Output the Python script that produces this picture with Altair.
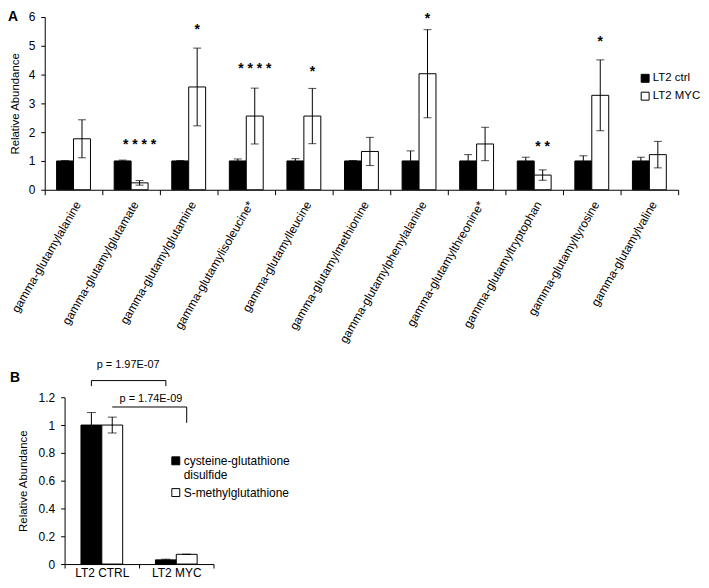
import altair as alt
import pandas as pd

FONT = "Liberation Sans"

# ---------------- Panel A data ----------------
categories = [
    "gamma-glutamylalanine", "gamma-glutamylglutamate", "gamma-glutamylglutamine",
    "gamma-glutamylisoleucine*", "gamma-glutamylleucine", "gamma-glutamylmethionine",
    "gamma-glutamylphenylalanine", "gamma-glutamylthreonine*", "gamma-glutamyltryptophan",
    "gamma-glutamyltyrosine", "gamma-glutamylvaline",
]
series_a = ["LT2 ctrl", "LT2 MYC"]
ctrl_values = [1.00, 1.00, 1.00, 1.00, 1.00, 1.00, 1.00, 1.00, 1.00, 1.00, 1.00]
ctrl_err = [0.01, 0.03, 0.01, 0.07, 0.08, 0.01, 0.35, 0.22, 0.13, 0.18, 0.13]
myc_values = [1.77, 0.24, 3.57, 2.56, 2.56, 1.33, 4.03, 1.59, 0.51, 3.28, 1.22]
myc_err = [0.66, 0.08, 1.35, 0.97, 0.96, 0.49, 1.53, 0.58, 0.18, 1.23, 0.46]
star_labels = ["", "* * * *", "*", "* * * *", "*", "", "*", "", "* *", "*", ""]
star_levels = [0, 1.81, 5.78, 4.42, 4.34, 0, 6.17, 0, 1.72, 5.37, 0]
panel_letters = ["A", "B"]

# ---------------- Panel B data ----------------
categories_b = ["LT2 CTRL", "LT2 MYC"]
series_b = ["cysteine-glutathione disulfide", "S-methylglutathione"]
cys_values = [1.00, 0.03]
cys_err = [0.09, 0.005]
smg_values = [1.00, 0.07]
smg_err = [0.057, 0.0]
bracket_ids = [1, 1, 1, 1, 2, 2, 2]
bracket_cats = ["LT2 CTRL", "LT2 CTRL", "LT2 MYC", "LT2 MYC", "LT2 CTRL", "LT2 MYC", "LT2 MYC"]
bracket_series = [series_b[0]] * 4 + [series_b[1]] * 3
bracket_levels = [1.28, 1.32, 1.32, 1.28, 1.13, 1.13, 1.016]
p_labels = ["p = 1.97E-07", "p = 1.74E-09"]
p_levels = [1.43, 1.19]

# ---------------- tables ----------------
rows_a = []
for i, c in enumerate(categories):
    for s, v, e in ((series_a[0], ctrl_values[i], ctrl_err[i]),
                    (series_a[1], myc_values[i], myc_err[i])):
        rows_a.append(dict(cat=c, series=s, value=v, lo=v - e, hi=v + e))
df_a = pd.DataFrame(rows_a)
df_stars = pd.DataFrame([
    dict(cat=c, series=series_a[1], label=l, level=lv)
    for c, l, lv in zip(categories, star_labels, star_levels) if l
])

rows_b = []
for i, c in enumerate(categories_b):
    for s, v, e in ((series_b[0], cys_values[i], cys_err[i]),
                    (series_b[1], smg_values[i], smg_err[i])):
        rows_b.append(dict(cat=c, series=s, value=v, lo=v - e, hi=v + e))
df_b = pd.DataFrame(rows_b)
df_br = pd.DataFrame(dict(bid=bracket_ids, cat=bracket_cats, series=bracket_series,
                          level=bracket_levels, order=list(range(len(bracket_ids)))))
df_p1 = pd.DataFrame(dict(cat=["LT2 CTRL"], label=[p_labels[0]], level=[p_levels[0]]))
df_p2 = pd.DataFrame(dict(cat=["LT2 CTRL"], label=[p_labels[1]], level=[p_levels[1]]))
df_letter_a = pd.DataFrame(dict(letter=[panel_letters[0]]))
df_letter_b = pd.DataFrame(dict(letter=[panel_letters[1]]))

# ---------------- Panel A ----------------
xA = alt.X("cat:N", sort=categories, title=None,
           scale=alt.Scale(domain=categories, paddingInner=0, paddingOuter=0),
           axis=alt.Axis(labelAngle=-60, labelFontSize=12, labelPadding=7, labelOffset=4,
                         tickBand="extent", tickSize=5, labelLimit=300, labelOverlap=False))
xoA = alt.XOffset("series:N", scale=alt.Scale(domain=series_a, paddingInner=0, paddingOuter=0.7))


def yA(field):
    return alt.Y(field, title="Relative Abundance",
                 scale=alt.Scale(domain=[0, 6], nice=False),
                 axis=alt.Axis(values=[0, 1, 2, 3, 4, 5, 6], tickSize=4, labelPadding=6,
                               titlePadding=8, labelFontSize=12, titleFontSize=11.5,
                               titleFontWeight="normal"))


bars_a = alt.Chart(df_a).mark_bar(stroke="black", strokeWidth=1).encode(
    x=xA, xOffset=xoA, y=yA("value:Q"),
    color=alt.Color("series:N", scale=alt.Scale(domain=series_a, range=["black", "white"]),
                    legend=alt.Legend(title=None, orient="none", legendX=599, legendY=56,
                                      symbolType="square", symbolSize=64,
                                      symbolStrokeColor="black", symbolStrokeWidth=1,
                                      labelFontSize=11.5, labelOffset=2, rowPadding=5)),
)
err_a = alt.Chart(df_a).mark_rule(color="black", strokeWidth=1).encode(
    x=xA, xOffset=xoA, y=yA("lo:Q"), y2="hi:Q")
cap_hi_a = alt.Chart(df_a).mark_tick(color="black", thickness=1, size=8).encode(
    x=xA, xOffset=xoA, y=yA("hi:Q"))
cap_lo_a = alt.Chart(df_a).mark_tick(color="black", thickness=1, size=8).encode(
    x=xA, xOffset=xoA, y=yA("lo:Q"))
stars_a = alt.Chart(df_stars).mark_text(font=FONT, fontSize=14, fontWeight="bold",
                                        baseline="top", color="black").encode(
    x=xA, xOffset=xoA, y=yA("level:Q"), text="label:N")
letter_a = alt.Chart(df_letter_a).mark_text(font=FONT, fontSize=14, fontWeight="bold",
                                            align="left", baseline="top", color="black").encode(
    x=alt.value(-37), y=alt.value(-7), text="letter:N")

panel_a = alt.layer(bars_a, err_a, cap_hi_a, cap_lo_a, stars_a, letter_a).properties(
    width=638, height=174,
)

# ---------------- Panel B ----------------
xB = alt.X("cat:N", sort=categories_b, title=None,
           scale=alt.Scale(domain=categories_b, range=[20, 170], paddingInner=0, paddingOuter=0),
           axis=alt.Axis(labelAngle=0, labelFontSize=12, labelPadding=0, tickBand="extent",
                         tickSize=4))
xoB = alt.XOffset("series:N", scale=alt.Scale(domain=series_b, paddingInner=0, paddingOuter=0.786))


def yB(field):
    return alt.Y(field, title="Relative Abundance",
                 scale=alt.Scale(domain=[0, 1.2], nice=False),
                 axis=alt.Axis(values=[0, 0.2, 0.4, 0.6, 0.8, 1.0, 1.2], format="~g", offset=-20,
                               tickSize=4, labelPadding=6, titlePadding=10, labelFontSize=12,
                               titleFontSize=11.5, titleFontWeight="normal"))


bars_b = alt.Chart(df_b).mark_bar(stroke="black", strokeWidth=1).encode(
    x=xB, xOffset=xoB, y=yB("value:Q"),
    color=alt.Color("series:N", scale=alt.Scale(domain=series_b, range=["black", "white"]),
                    legend=alt.Legend(title=None, orient="none", legendX=126, legendY=58,
                                      symbolType="square", symbolSize=64,
                                      symbolStrokeColor="black", symbolStrokeWidth=1,
                                      labelFontSize=12, labelOffset=2, rowPadding=6,
                                      labelLimit=300,
                                      labelExpr="datum.label == 'cysteine-glutathione disulfide' ? ['cysteine-glutathione', 'disulfide'] : datum.label")),
)
err_b = alt.Chart(df_b).mark_rule(color="black", strokeWidth=1).encode(
    x=xB, xOffset=xoB, y=yB("lo:Q"), y2="hi:Q")
cap_hi_b = alt.Chart(df_b).mark_tick(color="black", thickness=1, size=9).encode(
    x=xB, xOffset=xoB, y=yB("hi:Q"))
cap_lo_b = alt.Chart(df_b).mark_tick(color="black", thickness=1, size=9).encode(
    x=xB, xOffset=xoB, y=yB("lo:Q"))
br_b = alt.Chart(df_br).mark_line(color="black", strokeWidth=1, clip=False).encode(
    x=xB, xOffset=xoB, y=yB("level:Q"), detail="bid:N", order="order:Q")
p1_b = alt.Chart(df_p1).mark_text(font=FONT, fontSize=11, color="black", dx=-11).encode(
    x=alt.X("cat:N", bandPosition=1, sort=categories_b, title=None,
            scale=alt.Scale(domain=categories_b, range=[20, 170], paddingInner=0, paddingOuter=0)),
    y=yB("level:Q"), text="label:N")
p2_b = alt.Chart(df_p2).mark_text(font=FONT, fontSize=11, color="black", dx=12).encode(
    x=alt.X("cat:N", bandPosition=1, sort=categories_b, title=None,
            scale=alt.Scale(domain=categories_b, range=[20, 170], paddingInner=0, paddingOuter=0)),
    y=yB("level:Q"), text="label:N")
letter_b = alt.Chart(df_letter_b).mark_text(font=FONT, fontSize=14, fontWeight="bold",
                                            align="left", baseline="middle", color="black").encode(
    x=alt.value(-35), y=alt.value(-19), text="letter:N")

panel_b = alt.layer(bars_b, err_b, cap_hi_b, cap_lo_b, br_b, p1_b, p2_b, letter_b).properties(
    width=170, height=168,
)

chart = alt.vconcat(panel_a, panel_b, spacing=209, bounds="flush").resolve_scale(
    x="independent", y="independent", color="independent", xOffset="independent"
).resolve_legend(color="independent").properties(
    padding={"left": 0, "top": 0, "right": 0, "bottom": 0}
).configure(font=FONT).configure_axis(
    domainColor="black", tickColor="black", labelColor="black", titleColor="black",
    grid=False, labelFont=FONT, titleFont=FONT
).configure_legend(labelFont=FONT, labelColor="black").configure_view(stroke=None)

chart.save("out.html", embed_options={"renderer": "svg", "actions": False})
